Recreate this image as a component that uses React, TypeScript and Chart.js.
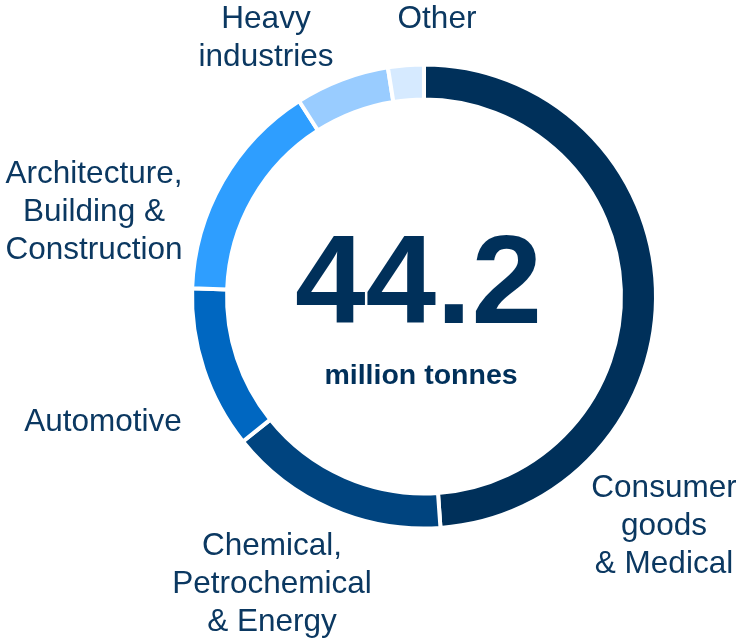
import React, { useEffect, useRef } from "react";
import { Chart, registerables } from "chart.js";

Chart.register(...registerables);

const categories: string[][] = [
  ["Consumer", "goods", "& Medical"],
  ["Chemical,", "Petrochemical", "& Energy"],
  ["Automotive"],
  ["Architecture,", "Building &", "Construction"],
  ["Heavy", "industries"],
  ["Other"],
];
const values: number[] = [21.6, 6.8, 5.0, 6.8, 2.9, 1.1];
const colors: string[] = ["#00305A", "#00447F", "#0067C1", "#2E9EFF", "#99CCFF", "#D6EAFF"];
const totalLabel = "44.2";
const unitLabel = "million tonnes";

// label anchor positions (layout only): [centerX, firstBaselineY]
const labelAnchors: [number, number][] = [
  [664, 497],
  [272, 555],
  [103, 431],
  [94, 183],
  [266, 28],
  [437, 28],
];
const lineHeight = 38;
const textColor = "#0B3861";
const fontFamily = '"Liberation Sans", Arial, sans-serif';

const labelPlugin = {
  id: "customLabels",
  afterDraw(chart: any) {
    const ctx = chart.ctx as CanvasRenderingContext2D;
    ctx.save();
    ctx.fillStyle = textColor;
    ctx.textAlign = "center";
    ctx.textBaseline = "alphabetic";
    ctx.font = `31.5px ${fontFamily}`;
    categories.forEach((lines, i) => {
      const [x, y] = labelAnchors[i];
      lines.forEach((line, j) => {
        ctx.fillText(line, x, y + j * lineHeight);
      });
    });
    ctx.fillStyle = "#00305A";
    ctx.font = `bold 127px ${fontFamily}`;
    ctx.fillText(totalLabel, 418.5, 323);
    ctx.font = `bold 28.5px ${fontFamily}`;
    ctx.fillText(unitLabel, 421, 383.5);
    ctx.restore();
  },
};

export default function App() {
  const canvasRef = useRef<HTMLCanvasElement | null>(null);
  useEffect(() => {
    if (!canvasRef.current) return;
    const chart = new Chart(canvasRef.current, {
      type: "doughnut",
      data: {
        labels: categories.map((l) => l.join(" ")),
        datasets: [
          {
            data: values,
            backgroundColor: colors,
            borderColor: "#ffffff",
            borderWidth: 4,
            hoverOffset: 0,
          },
        ],
      },
      options: {
        responsive: false,
        maintainAspectRatio: false,
        animation: false,
        cutout: "84.9%",
        layout: { padding: { left: 190, right: 78, top: 62.5, bottom: 107.5 } },
        plugins: {
          legend: { display: false },
          tooltip: { enabled: false },
        },
        events: [],
      },
      plugins: [labelPlugin],
    });
    return () => chart.destroy();
  }, []);
  return (
    <div style={{ position: "fixed", left: 0, top: 0, width: 736, height: 638, background: "#fff" }}>
      <canvas ref={canvasRef} width={736} height={638} style={{ display: "block" }} />
    </div>
  );
}
